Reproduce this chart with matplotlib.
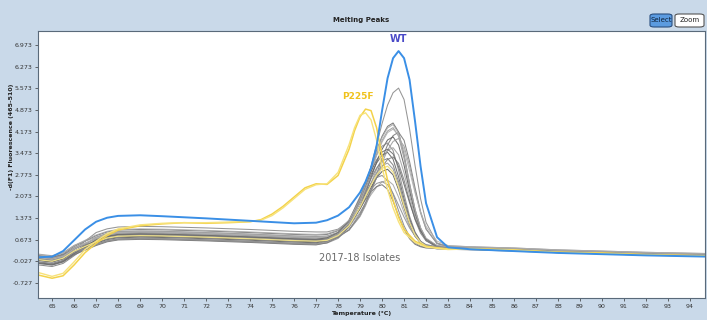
import matplotlib
matplotlib.use("Agg")
import matplotlib.pyplot as plt
from matplotlib.patches import FancyBboxPatch

# temperature grid shared by WT and isolate curves (deg C)
temps = [64.4, 65.0, 65.5, 66.0, 66.5, 67.0, 67.5, 68.0, 69.0, 70.0, 72.0, 74.0,
         76.0, 77.0, 77.5, 78.0, 78.5, 79.0, 79.25, 79.5, 79.75, 80.0, 80.25,
         80.5, 80.75, 81.0, 81.25, 81.5, 81.75, 82.0, 82.5, 83.0, 84.0, 86.0,
         88.0, 90.0, 92.0, 94.8]

wt = [0.10, 0.12, 0.30, 0.65, 1.00, 1.25, 1.38, 1.44, 1.46, 1.43, 1.36, 1.28,
      1.20, 1.22, 1.30, 1.45, 1.72, 2.20, 2.55, 3.00, 3.70, 4.85, 5.90,
      6.55, 6.78, 6.55, 5.85, 4.50, 3.05, 1.85, 0.75, 0.42, 0.36, 0.30,
      0.24, 0.20, 0.16, 0.12]

# 2017-18 isolates
isolates = [
    [0.05, 0.00, 0.10, 0.35, 0.62, 0.90, 1.02, 1.08, 1.10, 1.09, 1.05, 1.00,
     0.94, 0.92, 0.92, 1.01, 1.27, 1.91, 2.42, 3.04, 3.74, 4.43, 5.03,
     5.43, 5.58, 5.21, 4.26, 3.07, 2.00, 1.23, 0.56, 0.44, 0.40, 0.36,
     0.30, 0.26, 0.22, 0.18],
    [0.15, 0.10, 0.20, 0.45, 0.62, 0.80, 0.92, 0.98, 1.00, 0.99, 0.95, 0.90,
     0.84, 0.82, 0.84, 0.96, 1.29, 1.99, 2.47, 3.02, 3.56, 4.02, 4.34,
     4.45, 4.16, 3.42, 2.49, 1.65, 1.05, 0.70, 0.46, 0.42, 0.40, 0.36,
     0.30, 0.26, 0.22, 0.18],
    [-0.05, -0.10, 0.00, 0.25, 0.50, 0.75, 0.87, 0.93, 0.95, 0.94, 0.90, 0.85,
     0.79, 0.77, 0.79, 0.91, 1.23, 1.90, 2.38, 2.90, 3.43, 3.88, 4.19,
     4.30, 4.02, 3.30, 2.39, 1.58, 1.00, 0.65, 0.42, 0.38, 0.36, 0.32,
     0.27, 0.23, 0.19, 0.15],
    [0.10, 0.05, 0.15, 0.40, 0.55, 0.70, 0.82, 0.88, 0.90, 0.89, 0.85, 0.80,
     0.74, 0.72, 0.72, 0.78, 0.98, 1.45, 1.82, 2.28, 2.79, 3.30, 3.74,
     4.04, 4.15, 3.89, 3.20, 2.35, 1.58, 1.02, 0.54, 0.45, 0.42, 0.38,
     0.32, 0.28, 0.24, 0.20],
    [0.00, -0.05, 0.05, 0.30, 0.47, 0.65, 0.77, 0.83, 0.85, 0.84, 0.80, 0.75,
     0.69, 0.67, 0.69, 0.80, 1.10, 1.74, 2.18, 2.68, 3.18, 3.60, 3.90,
     4.00, 3.74, 3.08, 2.25, 1.50, 0.97, 0.65, 0.43, 0.40, 0.38, 0.34,
     0.28, 0.24, 0.20, 0.16],
    [-0.10, -0.15, -0.05, 0.20, 0.40, 0.60, 0.72, 0.78, 0.80, 0.79, 0.75, 0.70,
     0.64, 0.62, 0.67, 0.86, 1.29, 2.07, 2.54, 3.02, 3.42, 3.70, 3.80,
     3.56, 2.92, 2.14, 1.43, 0.92, 0.62, 0.47, 0.39, 0.38, 0.36, 0.32,
     0.26, 0.22, 0.18, 0.14],
    [0.20, 0.15, 0.25, 0.48, 0.62, 0.75, 0.87, 0.93, 0.95, 0.94, 0.90, 0.85,
     0.79, 0.77, 0.78, 0.88, 1.14, 1.69, 2.08, 2.51, 2.94, 3.31, 3.56,
     3.65, 3.42, 2.83, 2.09, 1.43, 0.95, 0.67, 0.48, 0.45, 0.43, 0.39,
     0.33, 0.29, 0.25, 0.21],
    [0.05, 0.00, 0.10, 0.30, 0.42, 0.55, 0.67, 0.73, 0.75, 0.74, 0.70, 0.65,
     0.59, 0.57, 0.62, 0.79, 1.19, 1.90, 2.34, 2.78, 3.15, 3.41, 3.50,
     3.28, 2.71, 1.99, 1.35, 0.89, 0.62, 0.48, 0.41, 0.40, 0.38, 0.34,
     0.28, 0.24, 0.20, 0.16],
    [-0.15, -0.20, -0.10, 0.15, 0.40, 0.65, 0.77, 0.83, 0.85, 0.84, 0.80, 0.75,
     0.69, 0.67, 0.71, 0.86, 1.22, 1.86, 2.26, 2.65, 2.99, 3.22, 3.30,
     3.09, 2.55, 1.87, 1.26, 0.82, 0.57, 0.44, 0.37, 0.36, 0.34, 0.30,
     0.25, 0.21, 0.17, 0.13],
    [0.10, 0.05, 0.12, 0.30, 0.40, 0.50, 0.62, 0.68, 0.70, 0.69, 0.65, 0.60,
     0.54, 0.52, 0.56, 0.71, 1.07, 1.71, 2.11, 2.50, 2.84, 3.07, 3.15,
     2.96, 2.45, 1.82, 1.26, 0.85, 0.61, 0.49, 0.43, 0.42, 0.40, 0.36,
     0.30, 0.26, 0.22, 0.18],
    [0.00, -0.05, 0.05, 0.28, 0.43, 0.58, 0.70, 0.76, 0.78, 0.77, 0.73, 0.68,
     0.62, 0.60, 0.63, 0.77, 1.09, 1.67, 2.02, 2.37, 2.67, 2.88, 2.95,
     2.77, 2.29, 1.70, 1.17, 0.78, 0.56, 0.45, 0.39, 0.38, 0.36, 0.32,
     0.27, 0.23, 0.19, 0.15],
    [-0.05, -0.10, 0.00, 0.22, 0.37, 0.52, 0.64, 0.70, 0.72, 0.71, 0.67, 0.62,
     0.56, 0.54, 0.62, 0.82, 1.24, 1.87, 2.20, 2.49, 2.68, 2.75, 2.58,
     2.15, 1.61, 1.12, 0.77, 0.56, 0.46, 0.42, 0.40, 0.40, 0.38, 0.34,
     0.28, 0.24, 0.20, 0.16],
    [0.12, 0.07, 0.17, 0.42, 0.55, 0.68, 0.80, 0.86, 0.88, 0.87, 0.83, 0.78,
     0.72, 0.70, 0.72, 0.83, 1.09, 1.56, 1.85, 2.13, 2.37, 2.54, 2.60,
     2.45, 2.05, 1.55, 1.10, 0.78, 0.59, 0.50, 0.44, 0.44, 0.42, 0.38,
     0.32, 0.28, 0.24, 0.20],
    [-0.10, -0.15, -0.05, 0.18, 0.33, 0.48, 0.60, 0.66, 0.68, 0.67, 0.63, 0.58,
     0.52, 0.50, 0.57, 0.75, 1.12, 1.68, 1.97, 2.22, 2.39, 2.45, 2.30,
     1.92, 1.44, 1.01, 0.70, 0.52, 0.44, 0.40, 0.38, 0.38, 0.36, 0.32,
     0.26, 0.22, 0.18, 0.14],
    [0.05, 0.00, 0.10, 0.35, 0.54, 0.72, 0.84, 0.90, 0.92, 0.91, 0.87, 0.82,
     0.76, 0.74, 0.74, 0.79, 0.98, 1.42, 1.77, 2.20, 2.68, 3.16, 3.57,
     3.85, 3.95, 3.70, 3.06, 2.25, 1.53, 1.01, 0.55, 0.47, 0.44, 0.40,
     0.34, 0.30, 0.26, 0.22],
    [0.15, 0.10, 0.18, 0.38, 0.50, 0.62, 0.74, 0.80, 0.82, 0.81, 0.77, 0.72,
     0.66, 0.64, 0.65, 0.74, 0.99, 1.51, 1.87, 2.28, 2.68, 3.03, 3.27,
     3.35, 3.14, 2.60, 1.93, 1.32, 0.88, 0.63, 0.45, 0.42, 0.40, 0.36,
     0.30, 0.26, 0.22, 0.18],
    [0.08, 0.03, 0.13, 0.38, 0.55, 0.72, 0.84, 0.90, 0.92, 0.91, 0.87, 0.82,
     0.76, 0.74, 0.76, 0.88, 1.20, 1.87, 2.34, 2.86, 3.39, 3.83, 4.14,
     4.25, 4.07, 3.58, 2.90, 2.19, 1.57, 1.10, 0.62, 0.48, 0.44, 0.40,
     0.34, 0.30, 0.26, 0.22],
    [-0.08, -0.13, -0.03, 0.22, 0.44, 0.66, 0.78, 0.84, 0.86, 0.85, 0.81, 0.76,
     0.70, 0.68, 0.73, 0.90, 1.30, 2.01, 2.44, 2.88, 3.25, 3.51, 3.60,
     3.45, 3.03, 2.46, 1.87, 1.34, 0.95, 0.69, 0.46, 0.41, 0.38, 0.34,
     0.28, 0.24, 0.20, 0.16],
    [0.05, 0.00, 0.08, 0.28, 0.39, 0.50, 0.62, 0.68, 0.70, 0.69, 0.65, 0.60,
     0.54, 0.52, 0.59, 0.78, 1.17, 1.74, 2.05, 2.31, 2.49, 2.55, 2.45,
     2.17, 1.79, 1.40, 1.05, 0.79, 0.61, 0.51, 0.44, 0.42, 0.40, 0.36,
     0.30, 0.26, 0.22, 0.18],
    [0.18, 0.13, 0.23, 0.48, 0.65, 0.82, 0.94, 1.00, 1.02, 1.01, 0.97, 0.92,
     0.86, 0.84, 0.86, 0.98, 1.30, 1.98, 2.46, 2.99, 3.52, 3.98, 4.29,
     4.40, 4.12, 3.39, 2.48, 1.65, 1.06, 0.72, 0.48, 0.44, 0.42, 0.38,
     0.32, 0.28, 0.24, 0.20],
]
isolate_colors = ["#8a8a8a", "#6e6e6e", "#9a9a9a", "#7a7a7a", "#5e5e5e", "#8c8c8c",
                  "#a0a0a0", "#666666", "#7e7e7e", "#969696", "#5a5a5a", "#888888",
                  "#a6a6a6", "#727272", "#9c9c9c", "#808080", "#b0b0b0", "#6a6a6a",
                  "#909090", "#a8a8a8"]

# one isolate trace drawn in pale yellow inside the grey bundle
pale_iso = [0.02, -0.03, 0.07, 0.30, 0.45, 0.60, 0.72, 0.78, 0.80, 0.79, 0.75, 0.70,
            0.64, 0.62, 0.65, 0.80, 1.12, 1.72, 2.08, 2.44, 2.76, 2.98, 3.05,
            2.86, 2.37, 1.76, 1.22, 0.82, 0.58, 0.46, 0.40, 0.38, 0.36, 0.32,
            0.27, 0.23, 0.19, 0.15]

# P225F mutant (own grid, it has a shoulder near 77)
temps_p225f = [64.4, 65.0, 65.5, 66.0, 66.5, 67.0, 67.5, 68.0, 69.0, 70.0, 71.0,
               72.0, 73.0, 74.0, 74.5, 75.0, 75.5, 76.0, 76.5, 77.0, 77.5, 78.0,
               78.5, 78.75, 79.0, 79.25, 79.5, 79.75, 80.0, 80.25, 80.5, 80.75,
               81.0, 81.5, 82.0, 83.0, 84.0, 86.0, 88.0, 90.0, 92.0, 94.8]
p225f_a = [-0.48, -0.58, -0.50, -0.15, 0.25, 0.55, 0.80, 0.98, 1.12, 1.18, 1.22,
           1.20, 1.22, 1.25, 1.32, 1.50, 1.75, 2.05, 2.35, 2.48, 2.46, 2.75,
           3.60, 4.20, 4.65, 4.90, 4.85, 4.30, 3.40, 2.60, 1.95, 1.40,
           1.00, 0.62, 0.45, 0.36, 0.38, 0.34, 0.26, 0.24, 0.18, 0.14]
p225f_b = [-0.40, -0.52, -0.42, -0.05, 0.35, 0.62, 0.86, 1.02, 1.15, 1.20, 1.22,
           1.22, 1.24, 1.26, 1.30, 1.45, 1.70, 2.00, 2.30, 2.45, 2.48, 2.85,
           3.75, 4.30, 4.70, 4.78, 4.55, 3.90, 3.00, 2.30, 1.70, 1.25,
           0.90, 0.58, 0.43, 0.35, 0.37, 0.33, 0.25, 0.22, 0.17, 0.13]

x_ticks = list(range(65, 95))
y_ticks = [6.973, 6.273, 5.573, 4.873, 4.173, 3.473, 2.773, 2.073, 1.373, 0.673, -0.027, -0.727]

BG = "#c9d9e9"

fig = plt.figure(figsize=(7.07, 3.2), dpi=100, facecolor=BG)
ax = fig.add_axes([38 / 707, 1 - 298 / 320, 667 / 707, 267 / 320])
ax.set_facecolor("white")

for vals, col in zip(isolates, isolate_colors):
    ax.plot(temps, vals, color=col, lw=0.75, alpha=0.9)
ax.plot(temps, pale_iso, color="#eee08a", lw=0.9)
ax.plot(temps_p225f, p225f_a, color="#f3d24a", lw=1.1)
ax.plot(temps_p225f, p225f_b, color="#f7e27a", lw=1.0)
ax.plot(temps, wt, color="#3a8fe6", lw=1.4)

ax.text(80.73, 7.17, "WT", color="#4a4ac8", fontsize=7, fontweight="bold",
        ha="center", va="center")
ax.text(78.9, 5.32, "P225F", color="#f0c21c", fontsize=6.5, fontweight="bold",
        ha="center", va="center")
ax.text(79.0, 0.07, "2017-18 Isolates", color="#6a6a6a", fontsize=7,
        ha="center", va="center")

ax.set_xlim(64.36, 94.68)
ax.set_ylim(-1.22, 7.43)
ax.set_xticks(x_ticks)
ax.set_xticklabels([str(t) for t in x_ticks])
ax.set_yticks(y_ticks)
ax.set_yticklabels([f"{v:.3f}" for v in y_ticks])
ax.tick_params(labelsize=4.5, length=2, width=0.5, colors="#333333", pad=2)
for s in ax.spines.values():
    s.set_color("#5a6a7a")
    s.set_linewidth(0.8)

fig.text(361 / 707, 1 - 20 / 320, "Melting Peaks", fontsize=5, fontweight="bold",
         ha="center", va="center", color="#222222")
fig.text(361 / 707, 1 - 313 / 320, "Temperature (°C)", fontsize=4.5, fontweight="bold",
         ha="center", va="center", color="#222222")
fig.text(12 / 707, 1 - 137 / 320, "-d(F1) Fluorescence (465-510)", fontsize=4.5,
         fontweight="bold", rotation=90, ha="center", va="center", color="#222222")

# Select / Zoom buttons
btn1 = FancyBboxPatch((650 / 707, 1 - 27 / 320), 22 / 707, 13 / 320,
                      boxstyle="round,pad=0,rounding_size=0.006",
                      transform=fig.transFigure, facecolor="#5b9be0",
                      edgecolor="#2a4f80", lw=0.8)
btn2 = FancyBboxPatch((675 / 707, 1 - 27 / 320), 29 / 707, 13 / 320,
                      boxstyle="round,pad=0,rounding_size=0.006",
                      transform=fig.transFigure, facecolor="white",
                      edgecolor="#555555", lw=0.8)
fig.patches.extend([btn1, btn2])
fig.text(661 / 707, 1 - 20.5 / 320, "Select", fontsize=5, ha="center", va="center",
         color="#10243c")
fig.text(689.5 / 707, 1 - 20.5 / 320, "Zoom", fontsize=5, ha="center", va="center",
         color="#222222")

fig.savefig("out.png", dpi=100, facecolor=BG)
